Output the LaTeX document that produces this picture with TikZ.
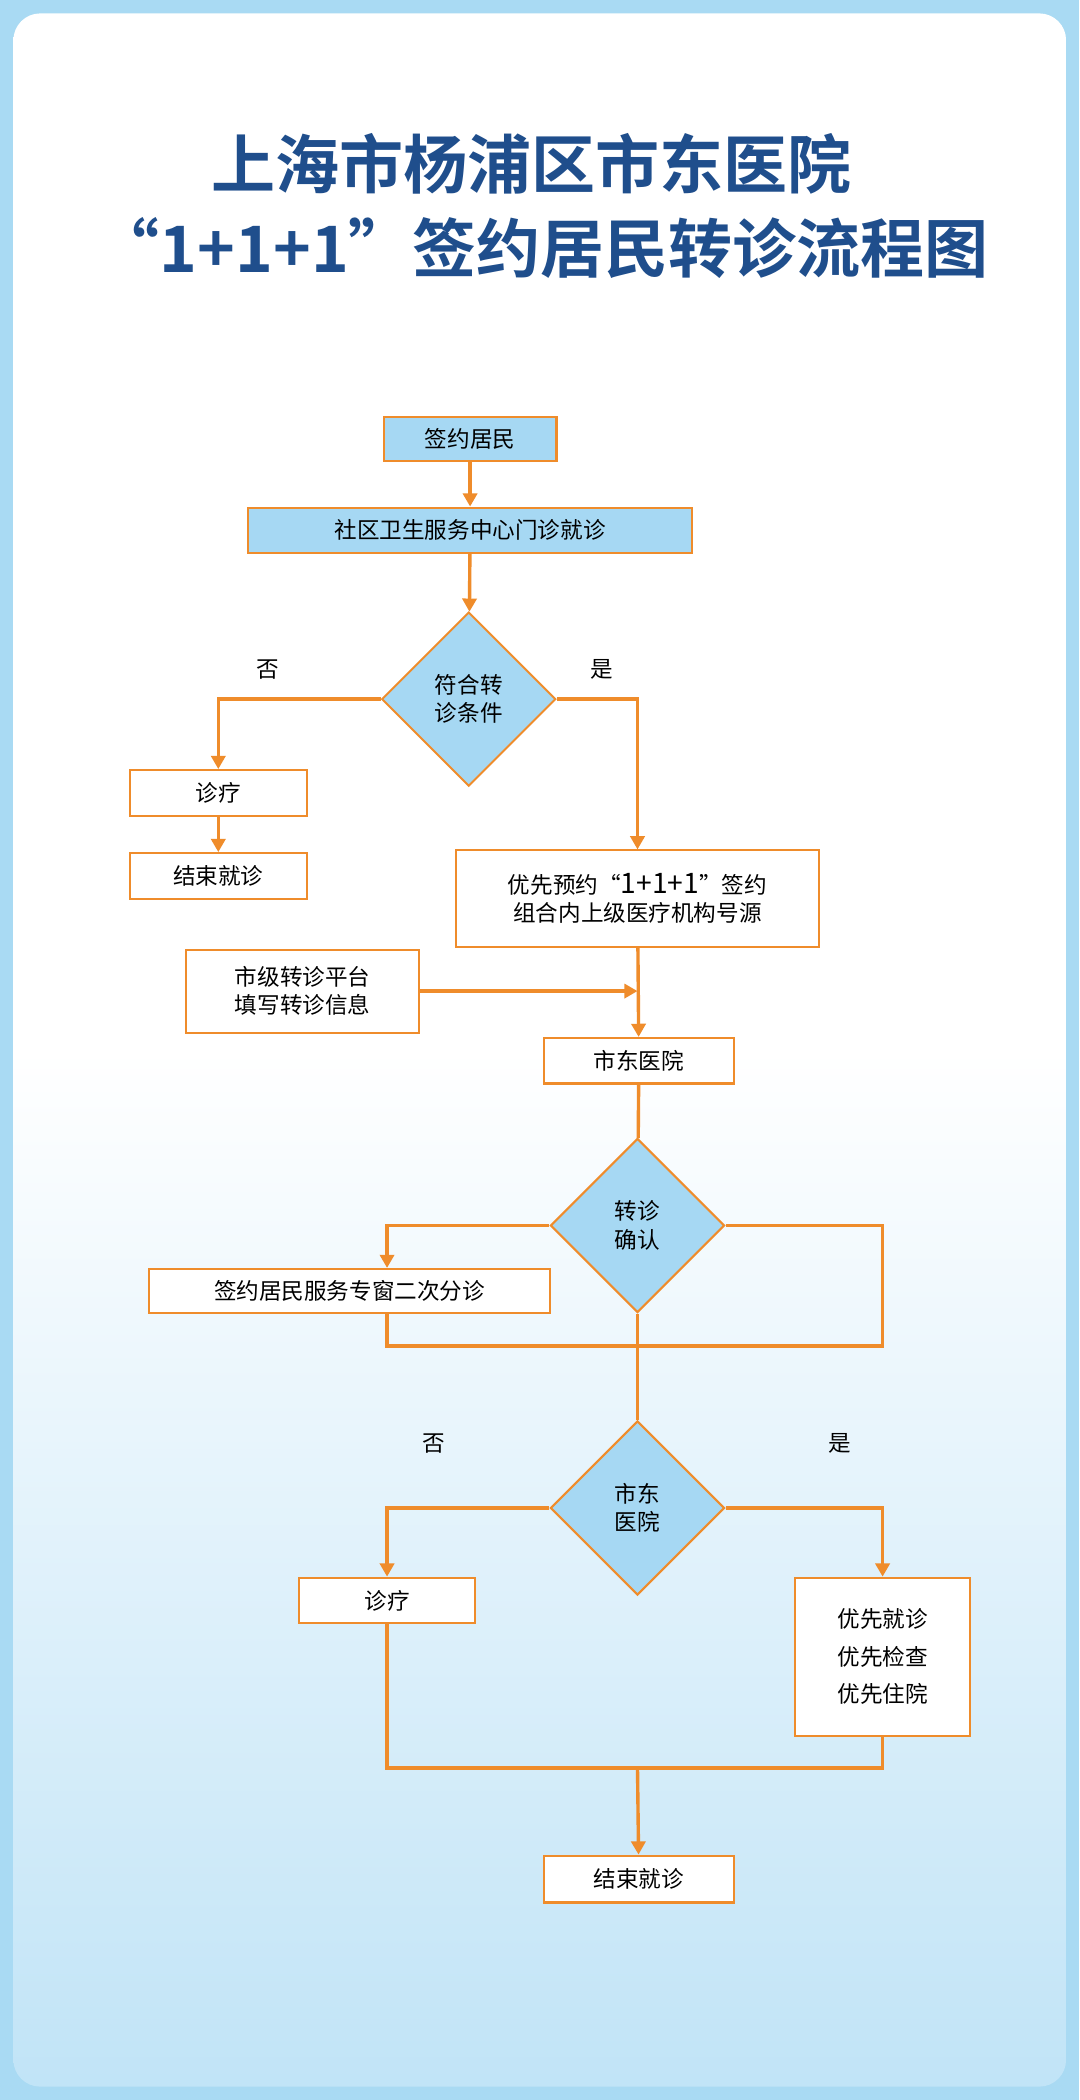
\documentclass[tikz,border=0pt]{standalone}
\usepackage{fontspec}
\setmainfont{Noto Sans CJK SC}
\newfontfamily\titlefont[BoldFont={Noto Sans CJK SC Bold}]{Noto Sans CJK SC}
\usetikzlibrary{shapes.geometric,arrows.meta,positioning}
\definecolor{frameblue}{HTML}{A9DAF3}
\definecolor{boxblue}{HTML}{A6D8F3}
\definecolor{lineorange}{HTML}{EF8C2B}
\definecolor{titleblue}{HTML}{1F4E8C}
\begin{document}
\begin{tikzpicture}[x=0.05cm,y=-0.05cm]
		\tikzstyle{bluebox}=[rectangle, draw=lineorange, line width=2.2pt, fill=boxblue, font=\fontsize{24}{30}\selectfont, inner sep=0pt]
		\tikzstyle{whitebox}=[rectangle, draw=lineorange, line width=2.2pt, fill=white, font=\fontsize{24}{30}\selectfont, inner sep=0pt, align=center]
		\tikzstyle{decision}=[diamond, draw=lineorange, line width=2.2pt, fill=boxblue, minimum width=6.5cm, minimum height=6.5cm, inner sep=0pt, align=center, font=\fontsize{24}{30}\selectfont]
		\tikzstyle{flow}=[draw=lineorange, line width=3.6pt]
		\tikzstyle{flowarrow}=[flow, -{Triangle[length=14pt,width=15pt]}]
		\tikzstyle{tag}=[font=\fontsize{24}{30}\selectfont]
		
		% Background
		\fill[frameblue] (0,0) rectangle (806,1568);
		\shade[top color=white, bottom color=boxblue!70, middle color=white, rounded corners=1cm] (10,10) rectangle (796,1558);
		
		% Title
		\node[titleblue, font=\titlefont\bfseries\fontsize{68}{72}\selectfont] (title1) at (397,122) {上海市杨浦区市东医院};
		\node[titleblue, font=\titlefont\bfseries\fontsize{68}{72}\selectfont] (title2) at (405,185) {“1+1+1”签约居民转诊流程图};
		
		% Boxes
		\node[bluebox, minimum width=6.45cm, minimum height=1.65cm] (resident) at (351,328) {签约居民};
		\node[bluebox, minimum width=16.55cm, minimum height=1.7cm] (community) at (351,396) {社区卫生服务中心门诊就诊};
		\node[decision] (cond) at (350,522) {符合转\\诊条件};
		\node[whitebox, minimum width=6.6cm, minimum height=1.7cm] (treat1) at (163,592) {诊疗};
		\node[whitebox, minimum width=6.6cm, minimum height=1.7cm] (end1) at (163,654) {结束就诊};
		\node[whitebox, minimum width=13.55cm, minimum height=3.6cm] (book) at (476,671) {优先预约“{\fontsize{30}{30}\selectfont 1+1+1}”签约\\组合内上级医疗机构号源};
		\node[whitebox, minimum width=8.7cm, minimum height=3.1cm] (platform) at (226,740) {市级转诊平台\\填写转诊信息};
		\node[whitebox, minimum width=7.1cm, minimum height=1.7cm] (hosp) at (477,792) {市东医院};
		\node[decision] (confirm) at (476,915) {转诊\\确认};
		\node[whitebox, minimum width=15cm, minimum height=1.65cm] (window) at (261,964) {签约居民服务专窗二次分诊};
		\node[decision] (hosp2) at (476,1126) {市东\\医院};
		\node[whitebox, minimum width=6.6cm, minimum height=1.7cm] (treat2) at (289,1195) {诊疗};
		\node[whitebox, minimum width=6.55cm, minimum height=5.9cm, font=\fontsize{24}{40}\selectfont] (priority) at (659,1237) {优先就诊\\优先检查\\优先住院};
		\node[whitebox, minimum width=7.1cm, minimum height=1.75cm] (end2) at (477,1403) {结束就诊};
		
		% Labels
		\node[tag] (no1) at (200,500) {否};
		\node[tag] (yes1) at (449,500) {是};
		\node[tag] (no2) at (324,1078) {否};
		\node[tag] (yes2) at (627,1078) {是};
		
		% Junctions
		\coordinate (join1) at (476,740);
		\coordinate (join2) at (476,1320);
		
		% Connectors
		\draw[flowarrow] (resident) -- (community);
		\draw[flowarrow] (community) -- (cond);
		\draw[flowarrow] (cond.west) -| (treat1.north);
		\draw[flowarrow] (treat1) -- (end1);
		\draw[flowarrow] (cond.east) -| (book.north);
		\draw[flowarrow] (book) -- (hosp);
		\draw[flowarrow] (platform.east) -- (join1);
		\draw[flow] (hosp) -- (confirm);
		\draw[flowarrow] (confirm.west) -| (window.north -| treat2);
		\draw[flow] (confirm.east) -- (659,915) -- (659,1005) -- (289,1005) -- (window.south -| treat2);
		\draw[flow] (confirm.south) -- (hosp2.north);
		\draw[flowarrow] (hosp2.west) -| (treat2.north);
		\draw[flowarrow] (hosp2.east) -| (priority.north);
		\draw[flow] (treat2.south) |- (join2) -| (priority.south);
		\draw[flowarrow] (join2) -- (end2);
		
\end{tikzpicture}
\end{document}
